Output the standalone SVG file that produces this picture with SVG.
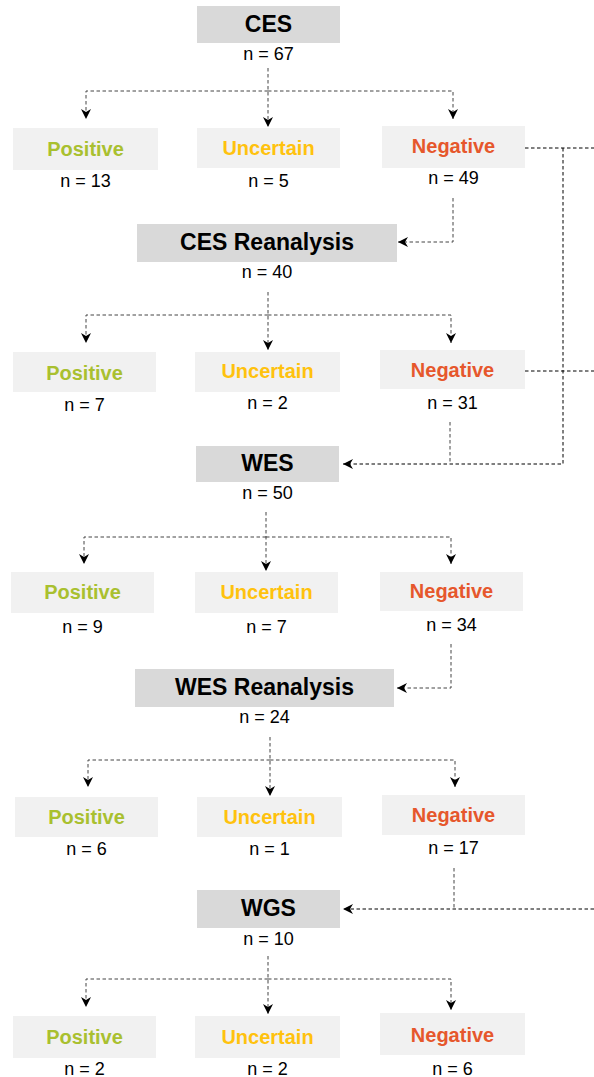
<svg xmlns="http://www.w3.org/2000/svg" width="594" height="1077" viewBox="0 0 594 1077">
<defs>
<marker id="arr" markerUnits="userSpaceOnUse" markerWidth="11" markerHeight="11" refX="10" refY="5" orient="auto">
<path d="M0,0 L10,5 L0,10 L3,5 z" fill="#000"/>
</marker>
<style>
.hdr{fill:#d9d9d9}
.lbl{fill:#f1f1f1}
text{font-family:"Liberation Sans",Arial,sans-serif;text-anchor:middle}
.ht{font-size:23px;font-weight:bold;fill:#000}
.pos{font-size:20px;font-weight:bold;fill:#a9c02f}
.unc{font-size:20px;font-weight:bold;fill:#ffc20e}
.neg{font-size:20px;font-weight:bold;fill:#e6572c}
.n{font-size:18px;fill:#000}
.c{fill:none;stroke:#444;stroke-width:1;stroke-dasharray:3.5,2.5}
.c2{fill:none;stroke:#000;stroke-width:1;stroke-dasharray:3.5,2.5}
.a{marker-end:url(#arr)}
</style>
</defs>
<g id="connectors">
<path class="c a" d="M268,68 V127"/>
<path class="c a" d="M268,91 H86 V119"/>
<path class="c a" d="M268,91 H453 V119"/>
<path class="c a" d="M453,198 V242 H398"/>
<path class="c2" d="M525,148 H594"/>
<path class="c2 a" d="M563,148 V464 H343"/>
<path class="c a" d="M268,292 V350"/>
<path class="c a" d="M268,315 H86 V343"/>
<path class="c a" d="M268,315 H451 V343"/>
<path class="c2" d="M525,371 H594"/>
<path class="c" d="M450,422 V464"/>
<path class="c a" d="M266,512 V571"/>
<path class="c a" d="M266,537 H84 V564"/>
<path class="c a" d="M266,537 H451 V564"/>
<path class="c a" d="M451,644 V688 H397"/>
<path class="c a" d="M270,737 V796"/>
<path class="c a" d="M270,760 H88 V787"/>
<path class="c a" d="M270,760 H455 V787"/>
<path class="c" d="M454,868 V909"/>
<path class="c2 a" d="M594,909 H343"/>
<path class="c a" d="M268,956 V1014"/>
<path class="c a" d="M268,979 H86 V1007"/>
<path class="c a" d="M268,979 H451 V1010"/>
</g>
<g id="ces"><rect class="hdr" x="197" y="6" width="143" height="37"/><text class="ht" x="268.5" y="31.5">CES</text><text class="n" x="268.5" y="59.5">n = 67</text></g>
<g id="ces-pos"><rect class="lbl" x="13" y="128" width="145" height="42"/><text class="pos" x="85.5" y="155.5">Positive</text><text class="n" x="85.5" y="186.5">n = 13</text></g>
<g id="ces-unc"><rect class="lbl" x="197" y="128" width="143" height="40"/><text class="unc" x="268.5" y="155">Uncertain</text><text class="n" x="268.5" y="186.5">n = 5</text></g>
<g id="ces-neg"><rect class="lbl" x="382" y="126" width="143" height="42"/><text class="neg" x="453.5" y="153">Negative</text><text class="n" x="453.5" y="184">n = 49</text></g>

<g id="cesr"><rect class="hdr" x="137" y="224" width="260" height="38"/><text class="ht" x="267" y="250">CES Reanalysis</text><text class="n" x="267" y="277.5">n = 40</text></g>
<g id="cesr-pos"><rect class="lbl" x="13" y="352" width="143" height="40"/><text class="pos" x="84.5" y="379.5">Positive</text><text class="n" x="84.5" y="410.5">n = 7</text></g>
<g id="cesr-unc"><rect class="lbl" x="195" y="352" width="145" height="40"/><text class="unc" x="267.5" y="377.5">Uncertain</text><text class="n" x="267.5" y="408.5">n = 2</text></g>
<g id="cesr-neg"><rect class="lbl" x="380" y="350" width="145" height="39"/><text class="neg" x="452.5" y="376.5">Negative</text><text class="n" x="452.5" y="408.5">n = 31</text></g>

<g id="wes"><rect class="hdr" x="196" y="446" width="143" height="36"/><text class="ht" x="267.5" y="471">WES</text><text class="n" x="267.5" y="498.5">n = 50</text></g>
<g id="wes-pos"><rect class="lbl" x="11" y="572" width="143" height="41"/><text class="pos" x="82.5" y="598.5">Positive</text><text class="n" x="82.5" y="632.5">n = 9</text></g>
<g id="wes-unc"><rect class="lbl" x="195" y="572" width="143" height="41"/><text class="unc" x="266.5" y="598.5">Uncertain</text><text class="n" x="266.5" y="632.5">n = 7</text></g>
<g id="wes-neg"><rect class="lbl" x="380" y="572" width="143" height="39"/><text class="neg" x="451.5" y="597.5">Negative</text><text class="n" x="451.5" y="630.5">n = 34</text></g>

<g id="wesr"><rect class="hdr" x="135" y="669" width="259" height="38"/><text class="ht" x="264.5" y="695.3">WES Reanalysis</text><text class="n" x="264.5" y="722.5">n = 24</text></g>
<g id="wesr-pos"><rect class="lbl" x="15" y="797" width="143" height="40"/><text class="pos" x="86.5" y="823.5">Positive</text><text class="n" x="86.5" y="854.5">n = 6</text></g>
<g id="wesr-unc"><rect class="lbl" x="197" y="797" width="145" height="40"/><text class="unc" x="269.5" y="823.5">Uncertain</text><text class="n" x="269.5" y="854.5">n = 1</text></g>
<g id="wesr-neg"><rect class="lbl" x="382" y="795" width="143" height="40"/><text class="neg" x="453.5" y="821.5">Negative</text><text class="n" x="453.5" y="853.5">n = 17</text></g>

<g id="wgs"><rect class="hdr" x="197" y="890" width="143" height="38"/><text class="ht" x="268.5" y="916.3">WGS</text><text class="n" x="268.5" y="944.5">n = 10</text></g>
<g id="wgs-pos"><rect class="lbl" x="13" y="1016" width="143" height="42"/><text class="pos" x="84.5" y="1043.5">Positive</text><text class="n" x="84.5" y="1074.5">n = 2</text></g>
<g id="wgs-unc"><rect class="lbl" x="195" y="1016" width="145" height="42"/><text class="unc" x="267.5" y="1043.5">Uncertain</text><text class="n" x="267.5" y="1074.5">n = 2</text></g>
<g id="wgs-neg"><rect class="lbl" x="380" y="1013" width="145" height="42"/><text class="neg" x="452.5" y="1041.5">Negative</text><text class="n" x="452.5" y="1074.5">n = 6</text></g>
</svg>
